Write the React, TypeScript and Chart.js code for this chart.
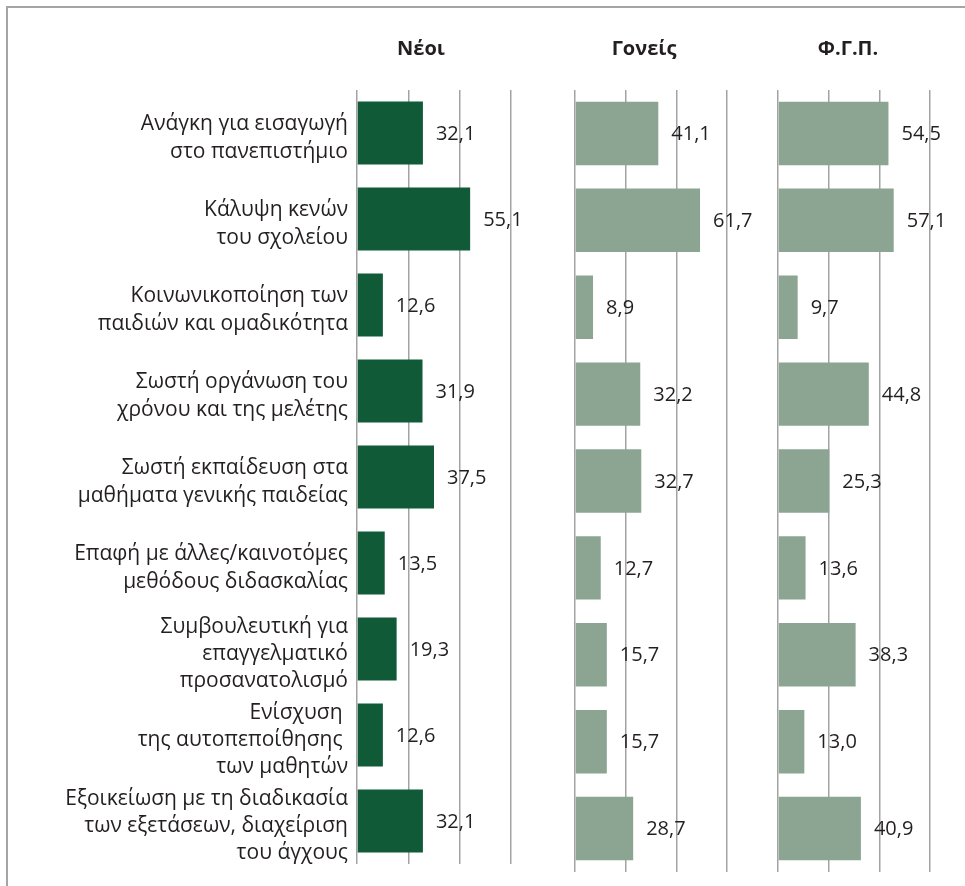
import React, { useEffect, useRef } from "react";
import { Chart, registerables } from "chart.js";

Chart.register(...registerables);

const categories: string[][] = [
  ["Ανάγκη για εισαγωγή", "στο πανεπιστήμιο"],
  ["Κάλυψη κενών", "του σχολείου"],
  ["Κοινωνικοποίηση των", "παιδιών και ομαδικότητα"],
  ["Σωστή οργάνωση του", "χρόνου και της μελέτης"],
  ["Σωστή εκπαίδευση στα", "μαθήματα γενικής παιδείας"],
  ["Επαφή με άλλες/καινοτόμες", "μεθόδους διδασκαλίας"],
  ["Συμβουλευτική για", "επαγγελματικό", "προσανατολισμό"],
  ["Ενίσχυση ", "της αυτοπεποίθησης ", "των μαθητών"],
  ["Εξοικείωση με τη διαδικασία", "των εξετάσεων, διαχείριση", "του άγχους"],
];

const youthValues = [32.1, 55.1, 12.6, 31.9, 37.5, 13.5, 19.3, 12.6, 32.1];
const parentValues = [41.1, 61.7, 8.9, 32.2, 32.7, 12.7, 15.7, 15.7, 28.7];
const tutorValues = [54.5, 57.1, 9.7, 44.8, 25.3, 13.6, 38.3, 13.0, 40.9];

const panelTitles = ["Νέοι", "Γονείς", "Φ.Γ.Π."];
const xMin = 0;
const xMax = 75;
const xStep = 25;

const FONT = "'Open Sans', 'Noto Sans', sans-serif";
const TEXT_COLOR = "#231f20";
const GRID_COLOR = "#a3a3a3";

const fmt = (v: number) => v.toFixed(1).replace(".", ",");

const valueLabelPlugin = {
  id: "valueLabels",
  afterDatasetsDraw(chart: any) {
    const ctx = chart.ctx;
    ctx.save();
    ctx.font = `20px ${FONT}`;
    ctx.fillStyle = TEXT_COLOR;
    ctx.textAlign = "left";
    ctx.textBaseline = "middle";
    chart.data.datasets.forEach((ds: any, i: number) => {
      const meta = chart.getDatasetMeta(i);
      meta.data.forEach((el: any, j: number) => {
        ctx.fillText(fmt(ds.data[j]), el.x + 13, el.y + 1);
      });
    });
    ctx.restore();
  },
};

type PanelProps = {
  values: number[];
  color: string;
  left: number;
  width: number;
  height: number;
  padding: { top: number; bottom: number; left: number; right: number };
  showLabels: boolean;
  yWidth?: number;
};

function Panel({ values, color, left, width, height, padding, showLabels, yWidth }: PanelProps) {
  const ref = useRef<HTMLCanvasElement>(null);
  useEffect(() => {
    if (!ref.current) return;
    const chart = new Chart(ref.current, {
      type: "bar",
      data: {
        labels: categories as any,
        datasets: [
          {
            data: values,
            backgroundColor: color,
            borderWidth: 0,
            barPercentage: 0.73,
            categoryPercentage: 1,
          },
        ],
      },
      options: {
        indexAxis: "y",
        responsive: false,
        animation: false,
        layout: { padding },
        plugins: {
          legend: { display: false },
          tooltip: { enabled: false },
          title: { display: false },
        },
        scales: {
          x: {
            min: xMin,
            max: xMax,
            ticks: { display: false, stepSize: xStep },
            grid: { color: GRID_COLOR, lineWidth: 1.5, drawTicks: false },
            border: { display: false },
            afterFit: (s: any) => {
              s.height = 0;
              s.paddingLeft = 0;
              s.paddingRight = 0;
            },
          },
          y: {
            display: showLabels,
            ticks: {
              autoSkip: false,
              padding: 9,
              labelOffset: 5,
              color: TEXT_COLOR,
              font: { family: FONT, size: 21, lineHeight: 1.3 },
            },
            grid: { display: false, drawTicks: false },
            border: { display: false },
            afterFit: (s: any) => {
              if (yWidth) s.width = yWidth;
              s.paddingTop = 0;
              s.paddingBottom = 0;
            },
          },
        },
      } as any,
      plugins: [valueLabelPlugin],
    });
    return () => chart.destroy();
  }, []);
  return (
    <canvas
      ref={ref}
      width={width}
      height={height}
      style={{ position: "absolute", left, top: 0, width, height }}
    />
  );
}

const titleStyle = (cx: number): React.CSSProperties => ({
  position: "absolute",
  left: cx,
  top: 35,
  transform: "translateX(-50%)",
  font: `bold 20px ${FONT}`,
  lineHeight: "26px",
  color: TEXT_COLOR,
  whiteSpace: "nowrap",
});

export default function App() {
  return (
    <div
      style={{
        position: "absolute",
        left: 0,
        top: 0,
        width: 965,
        height: 886,
        overflow: "hidden",
        background: "#fff",
      }}
    >
      <div
        style={{
          position: "absolute",
          left: 6,
          top: 6,
          width: 1000,
          height: 1000,
          borderTop: "2px solid #a5a5a5",
          borderLeft: "2px solid #a5a5a5",
        }}
      />
      <Panel
        values={youthValues}
        color="#115a38"
        left={0}
        width={540}
        height={886}
        padding={{ top: 90, bottom: 22, left: 0, right: 29 }}
        showLabels={true}
        yWidth={357}
      />
      <Panel
        values={parentValues}
        color="#8ba592"
        left={560}
        width={205}
        height={886}
        padding={{ top: 90, bottom: 14, left: 15, right: 38 }}
        showLabels={false}
      />
      <Panel
        values={tutorValues}
        color="#8ba592"
        left={765}
        width={200}
        height={886}
        padding={{ top: 90, bottom: 14, left: 13, right: 35 }}
        showLabels={false}
      />
      <div style={titleStyle(421)}>{panelTitles[0]}</div>
      <div style={titleStyle(644)}>{panelTitles[1]}</div>
      <div style={titleStyle(848)}>{panelTitles[2]}</div>
    </div>
  );
}
